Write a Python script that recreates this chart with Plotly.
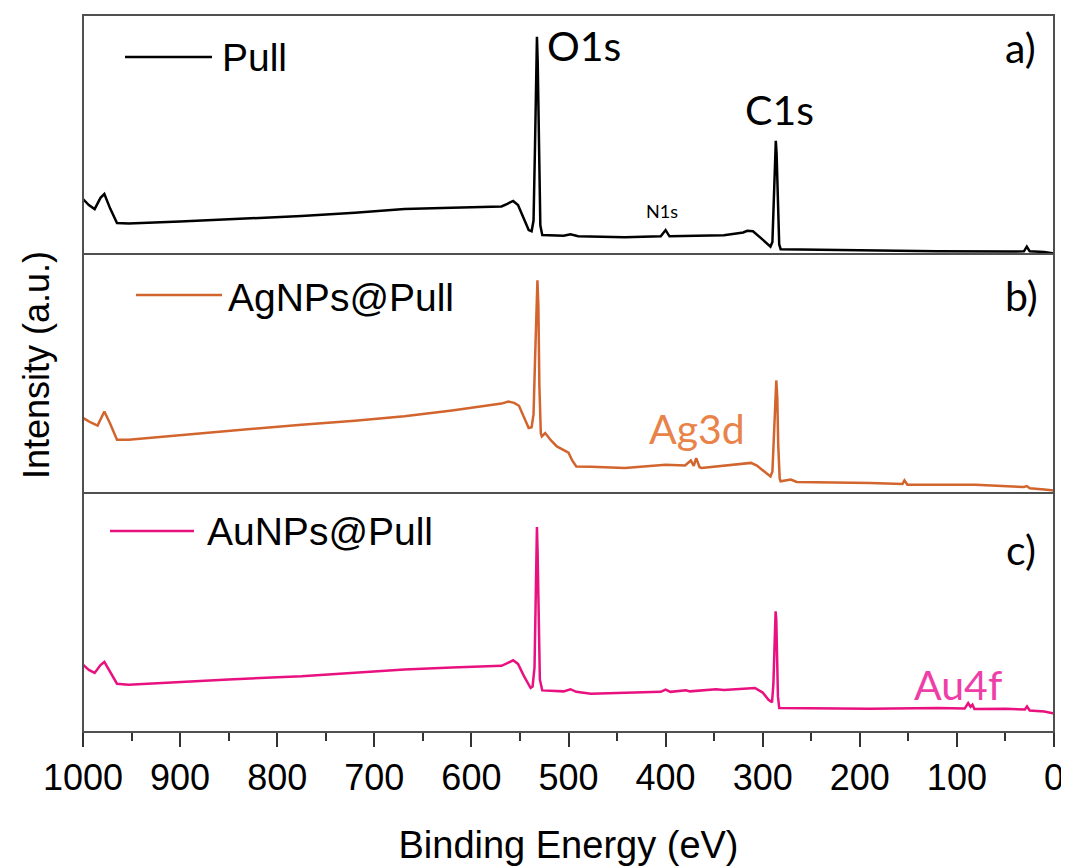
import plotly.graph_objects as go
from plotly.subplots import make_subplots

# ---------------- data (binding energy in eV, intensity in arbitrary units) ----------------
E_pull = [1000, 994, 988, 982, 978, 972, 965, 953, 900, 850, 775, 720, 669, 620, 580, 569, 563, 557, 552, 546,
          541, 538, 536, 534.5, 533.3, 532.5, 531.7, 530.5, 529, 527, 505, 498, 490, 442, 405, 400, 396, 340,
          320, 316, 310, 300, 292, 290, 288.5, 287.3, 286.5, 285.7, 284.5, 283, 281.5, 189.5, 120, 45, 31, 28,
          25, 10, 2, 0]
I_pull = [23.0, 20.5, 18.8, 23.5, 25.1, 19.0, 13.0, 12.8, 13.6, 14.4, 15.9, 17.3, 18.8, 19.4, 19.7, 19.9, 21.0,
          22.2, 20.5, 15.0, 10.0, 9.5, 14.0, 45.0, 80.0, 90.9, 80.0, 40.0, 12.0, 7.9, 7.6, 8.2, 7.4, 7.0, 7.4,
          10.0, 7.4, 7.8, 9.0, 9.7, 9.5, 6.0, 3.1, 5.0, 25.0, 42.0, 47.4, 42.0, 22.0, 4.0, 2.0, 1.4, 1.2, 1.0,
          1.1, 3.1, 1.1, 0.8, 0.3, 0.2]

E_ag = [1000, 992, 985, 978, 972, 965, 953, 900, 850, 775, 720, 669, 620, 590, 569, 562, 556, 551, 546, 541,
        538, 536, 534.5, 533, 532, 531, 530, 528.5, 527.5, 524, 518, 512, 505, 500, 496, 492, 477, 442, 400,
        380, 374, 371, 368.5, 365, 363, 330, 312, 306, 292, 290, 288.5, 287, 286, 285, 284, 282.5, 281.5, 271,
        265, 189.5, 156, 154, 151, 81, 50, 31, 28, 25, 10, 2, 0]
I_ag = [31.4, 29.5, 28.2, 34.1, 29.0, 22.3, 22.3, 24.2, 25.9, 28.6, 30.2, 32.1, 34.5, 36.2, 37.4, 38.3, 37.7,
        36.5, 32.0, 27.2, 27.5, 33.0, 55.0, 80.0, 89.0, 78.0, 45.0, 25.0, 23.7, 25.1, 22.0, 19.5, 18.1, 16.9,
        13.5, 11.1, 11.0, 10.5, 11.8, 11.5, 13.6, 11.3, 14.6, 10.8, 10.5, 11.8, 12.6, 11.5, 6.9, 9.0, 25.0,
        42.0, 47.1, 40.0, 20.0, 6.0, 4.9, 5.6, 4.6, 4.2, 3.8, 5.3, 3.5, 3.5, 3.0, 2.5, 2.9, 2.0, 1.5, 1.1, 1.0]

E_au = [1000, 994, 988, 982, 978, 972, 965, 953, 900, 850, 775, 720, 669, 620, 569, 563, 557, 552, 546, 539,
        537, 535, 534, 533.2, 532.5, 531.8, 530.7, 529.5, 527, 505, 498, 492, 477, 442, 405, 400, 395, 379,
        375, 348, 340, 308, 300, 294, 290.4, 289, 288, 287.3, 286.7, 286, 285.2, 284.3, 283, 250, 189.5, 120,
        92, 88.4, 86, 84, 82, 50, 30, 27.8, 25, 10, 2, 0]
I_au = [28.2, 26.0, 24.7, 28.0, 29.3, 25.0, 20.2, 19.8, 21.0, 22.0, 23.3, 24.7, 26.1, 27.0, 27.7, 28.8, 30.0,
        28.5, 23.5, 18.4, 19.0, 27.0, 50.0, 75.0, 85.8, 75.0, 45.0, 22.0, 17.4, 17.0, 17.9, 16.8, 16.0, 16.3,
        16.8, 17.7, 16.8, 17.5, 17.0, 17.9, 17.6, 18.4, 16.5, 13.5, 12.4, 20.0, 35.0, 47.0, 50.5, 47.0, 33.0,
        15.0, 10.0, 9.9, 9.7, 10.0, 9.8, 12.1, 10.6, 11.4, 9.6, 9.7, 9.4, 10.7, 9.0, 8.6, 7.9, 7.7]

series_names = ["Pull", "AgNPs@Pull", "AuNPs@Pull"]
series_colors = ["#000000", "#D2642D", "#E8117F"]
panel_tags = ["a)", "b)", "c)"]
x_ticks = list(range(0, 1001, 100))

# ---------------- geometry (screen pixels; page body adds an 8px offset) ----------------
OFF = 8
W, H = 1069 - OFF, 868 - OFF
L, R, T, B = 83, 1054, 15, 732          # plot area in screen coordinates


def px(x):
    return (x - L) / (R - L)


def py(y):
    return (B - y) / (B - T)


fig = make_subplots(rows=3, cols=1, shared_xaxes=True, vertical_spacing=0)

data = [(E_pull, I_pull), (E_ag, I_ag), (E_au, I_au)]
for i, (e, inten) in enumerate(data):
    fig.add_trace(go.Scatter(x=e, y=inten, mode="lines", name=series_names[i],
                             line=dict(color=series_colors[i], width=2.5), showlegend=False),
                  row=i + 1, col=1)

for i in range(1, 4):
    fig.update_yaxes(range=[0, 100], showticklabels=False, ticks="", showgrid=False,
                     zeroline=False, showline=False, row=i, col=1)
    fig.update_xaxes(range=[1000, 0], showgrid=False, zeroline=False, showline=False, row=i, col=1)

fig.update_xaxes(tickvals=x_ticks, ticks="outside", ticklen=14, tickwidth=2, tickcolor="#333333",
                 minor=dict(dtick=50, ticks="outside", ticklen=8, tickwidth=2, tickcolor="#333333"),
                 tickfont=dict(family="Liberation Sans, Arial", size=36, color="#000000"),
                 title=dict(text="Binding Energy (eV)",
                            font=dict(family="Liberation Sans, Arial", size=38, color="#000000"),
                            standoff=34),
                 row=3, col=1)

# panel frames
doms = [(py(254), py(T)), (py(493), py(254)), (py(B), py(493))]
for y0, y1 in doms:
    fig.add_shape(type="rect", xref="paper", yref="paper", x0=0, x1=1, y0=y0, y1=y1,
                  line=dict(color="#505050", width=2), fillcolor="rgba(0,0,0,0)", layer="above")

# legend samples + labels (one per panel)
leg = [((125, 212, 57), (220, 58)), ((136, 222, 295), (226, 297)), ((110, 194, 531), (205, 531))]
for i, ((xa, xb, yl), (tx, ty)) in enumerate(leg):
    fig.add_shape(type="line", xref="paper", yref="paper", x0=px(xa), x1=px(xb), y0=py(yl), y1=py(yl),
                  line=dict(color=series_colors[i], width=2.5))
    fig.add_annotation(x=px(tx), y=py(ty), xref="paper", yref="paper", text=series_names[i],
                       showarrow=False, xanchor="left", yanchor="middle",
                       font=dict(family="Liberation Sans, Arial", size=39, color="#000000"))

lab_font = "Lato, Open Sans, sans-serif"
labels = [
    ("O1s", 584, 46, 41, "#000000"),
    ("C1s", 779, 109, 41, "#000000"),
    ("N1s", 662, 211, 18, "#000000"),
    ("Ag3d", 697, 428, 41, "#E8834A"),
    ("Au4f", 958, 684, 41, "#EE3FA8"),
]
for txt, x, y, s, c in labels:
    fig.add_annotation(x=px(x), y=py(y), xref="paper", yref="paper", text=txt, showarrow=False,
                       xanchor="center", yanchor="middle", font=dict(family=lab_font, size=s, color=c))

tags_pos = [(1020, 48), (1021, 295), (1021, 549)]
for t, (x, y) in zip(panel_tags, tags_pos):
    fig.add_annotation(x=px(x), y=py(y), xref="paper", yref="paper", text=t, showarrow=False,
                       xanchor="center", yanchor="middle",
                       font=dict(family=lab_font, size=41, color="#000000"))

fig.add_annotation(x=px(36), y=py(365), xref="paper", yref="paper", text="Intensity (a.u.)",
                   showarrow=False, textangle=-90, xanchor="center", yanchor="middle",
                   font=dict(family="Liberation Sans, Arial", size=36, color="#000000"))

fig.update_layout(width=W, height=H,
                  margin=dict(l=L - OFF, r=W - (R - OFF), t=T - OFF, b=H - (B - OFF), autoexpand=False),
                  plot_bgcolor="white", paper_bgcolor="white", showlegend=False)

fig.write_html("out.html")
